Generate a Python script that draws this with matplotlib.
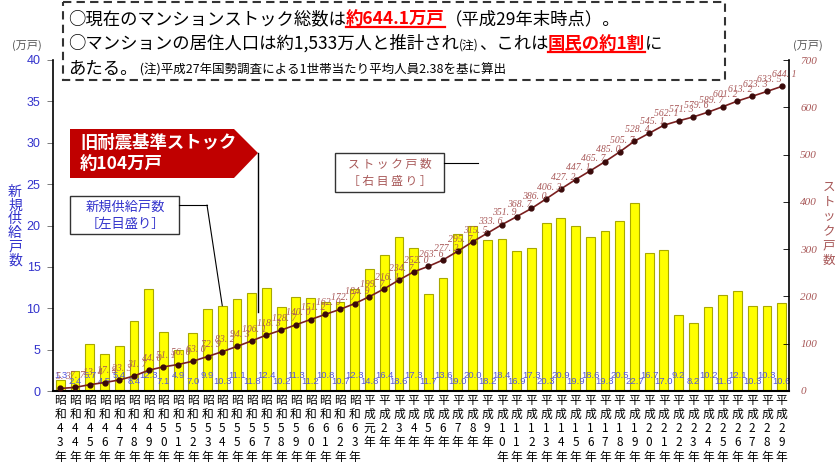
import matplotlib
matplotlib.use('Agg')
import matplotlib.pyplot as plt
from matplotlib.transforms import Affine2D
from matplotlib.patches import Rectangle, Polygon, ConnectionPatch
from matplotlib.lines import Line2D
import numpy as np

W, H = 837, 468
plt.rcParams['font.family'] = ['Noto Sans CJK JP', 'DejaVu Sans']

# ---------------- data ----------------
showa_years = list(range(43, 64))
heisei_years = list(range(1, 30))
year_labels = [f"昭和{y}年" for y in showa_years] + \
              [("平成元年" if y == 1 else f"平成{y}年") for y in heisei_years]

supply = [1.3, 2.4, 5.7, 4.5, 5.4, 8.4, 12.3, 7.1, 4.9, 7.0,
          9.9, 10.3, 11.1, 11.8, 12.4, 10.2, 11.3, 11.2, 10.8, 10.7,
          12.3, 14.8, 16.4, 18.6, 17.3, 11.7, 13.6, 19.0, 20.0, 18.2,
          18.4, 16.9, 17.3, 20.3, 20.9, 19.9, 18.6, 19.3, 20.5, 22.7,
          16.7, 17.0, 9.2, 8.2, 10.2, 11.6, 12.1, 10.3, 10.3, 10.6]

stock = [5.3, 7.7, 13.4, 17.9, 23.3, 31.7, 44.0, 51.1, 56.0, 63.0,
         72.9, 83.2, 94.3, 106.1, 118.3, 128.7, 140.0, 151.2, 162.0, 172.7,
         184.9, 199.7, 216.1, 234.7, 252.0, 263.6, 277.2, 295.7, 315.5, 333.6,
         351.9, 368.7, 386.0, 406.3, 427.2, 447.1, 465.7, 485.0, 505.7, 528.4,
         545.1, 562.1, 571.3, 579.6, 589.7, 601.2, 613.2, 623.3, 633.5, 644.1]

left_ticks = list(range(0, 41, 5))
right_ticks = list(range(0, 701, 100))

BLUE = '#3333CC'
BROWN = '#A85858'

# ---------------- figure ----------------
fig = plt.figure(figsize=(W / 100, H / 100), dpi=100)
fig.patch.set_facecolor('white')
PX = Affine2D().scale(1 / W, -1 / H).translate(0, 1) + fig.transFigure

ax = fig.add_axes([53 / W, 1 - 391 / H, (789 - 53) / W, (391 - 60) / H])
x = np.arange(len(supply))
ax.bar(x, supply, width=0.6, color='#FFFF00', edgecolor='#A8A800',
       linewidth=0.8, zorder=2)
ax.set_xlim(-0.5, len(supply) - 0.5)
ax.set_ylim(0, 40)
ax.set_yticks(left_ticks)
ax.set_yticklabels([str(t) for t in left_ticks], color=BLUE, fontsize=9,
                   family='Liberation Sans')
ax.tick_params(axis='y', direction='out', length=4, width=0.6, color='#666666', pad=5)
ax.set_xticks(x)
ax.set_xticklabels(["\n".join(l) for l in year_labels], fontsize=8.5,
                   linespacing=1.12, va='top')
ax.tick_params(axis='x', length=0, pad=2)
ax.spines['top'].set_visible(False)
ax.spines['right'].set_visible(False)
ax.spines['left'].set_linewidth(1.2)
ax.spines['bottom'].set_linewidth(1.5)

for i, v in enumerate(supply):
    yy = 1.9 if i % 2 == 0 else 1.2
    ax.text(i, yy, f"{v:.1f}", ha='center', va='center', fontsize=6.8,
            color='#5555DD', family='Liberation Sans', zorder=5)

ax2 = ax.twinx()
ax2.plot(x, stock, color='#7A1F1F', lw=1.2, marker='o', ms=3.5,
         mfc='#3A0A0A', mec='#3A0A0A', zorder=3)
ax2.set_ylim(0, 700)
ax2.set_yticks(right_ticks)
ax2.set_yticklabels([str(t) for t in right_ticks], color=BROWN, fontsize=8,
                    family='Liberation Serif', style='italic')
ax2.tick_params(axis='y', direction='in', length=4, width=0.6, pad=8)
ax2.spines['top'].set_visible(False)
ax2.spines['left'].set_visible(False)
ax2.spines['bottom'].set_visible(False)
ax2.spines['right'].set_linewidth(1.2)

for i, v in enumerate(stock):
    ax2.annotate(f"{v:.1f}".replace('.', '. '), (i, v), xytext=(2, 8.5),
                 textcoords='offset points', ha='center', va='center',
                 fontsize=7, color=BROWN, family='Liberation Serif',
                 style='italic', zorder=4)

# axis titles
fig.text(15 / W, 1 - 226 / H, "\n".join("新規供給戸数"), color=BLUE, fontsize=10,
         ha='center', va='center', linespacing=0.97)
fig.text(829 / W, 1 - 224 / H, "\n".join("ストック戸数"), color=BROWN, fontsize=9,
         ha='center', va='center', linespacing=1.15)
fig.text(27 / W, 1 - 45 / H, "(万戸)", color='#555555', fontsize=8,
         ha='center', va='center')
fig.text(808 / W, 1 - 45 / H, "(万戸)", color='#555555', fontsize=8,
         ha='center', va='center')

# ---------------- header box ----------------
fig.add_artist(Rectangle((63, 2), 662, 78, transform=PX, facecolor='white',
                         edgecolor='#333333', lw=1.5, ls=(0, (4, 2.5)), zorder=5))

renderer = fig.canvas.get_renderer()


def rich(x0, ybase, pieces):
    xx = x0
    for s, kw in pieces:
        kw = dict(kw)
        ul = kw.pop('underline', False)
        t = fig.text(xx / W, 1 - ybase / H, s, va='baseline', ha='left',
                     zorder=6, **kw)
        bb = t.get_window_extent(renderer)
        if ul:
            fig.add_artist(Line2D([xx, xx + bb.width], [ybase + 3, ybase + 3],
                                  transform=PX, color=kw.get('color', 'k'),
                                  lw=1.6, zorder=6))
        xx += bb.width


BIG = dict(fontsize=12.5, color='black')
RED = dict(fontsize=12.5, color='#FF0000', fontweight='bold', underline=True)
rich(68, 24, [("○現在のマンションストック総数は", BIG),
              ("約644.1万戸", RED),
              ("（平成29年末時点）。", BIG)])
rich(68, 49, [("○マンションの居住人口は約1,533万人と推計され", BIG),
              ("(注)", dict(fontsize=8.5, color='black')),
              ("、これは", BIG),
              ("国民の約1割", RED),
              ("に", BIG)])
rich(68, 74, [("あたる。", BIG),
              (" (注)平成27年国勢調査による1世帯当たり平均人員2.38を基に算出",
               dict(fontsize=9, color='black'))])

# ---------------- red pentagon ----------------
fig.add_artist(Polygon([(70, 129), (234, 129), (258, 153), (234, 178), (70, 178)],
                       closed=True, transform=PX, facecolor='#C00000',
                       edgecolor='none', zorder=5))
fig.text(80 / W, 1 - 143 / H, "旧耐震基準ストック", color='white', fontsize=12.5,
         fontweight='bold', ha='left', va='center', zorder=6)
fig.text(80 / W, 1 - 164 / H, "約104万戸", color='white', fontsize=12.5,
         fontweight='bold', ha='left', va='center', zorder=6)
fig.add_artist(Line2D([258, 258], [153, 312], transform=PX, color='black',
                      lw=1.0, zorder=5))

# ---------------- supply legend box ----------------
fig.add_artist(Rectangle((70, 196), 109, 38, transform=PX, facecolor='white',
                         edgecolor='#333333', lw=1.0, zorder=5))
fig.text(125 / W, 1 - 207 / H, "新規供給戸数", color=BLUE, fontsize=9.5,
         ha='center', va='center', zorder=6)
fig.text(125 / W, 1 - 224 / H, "［左目盛り］", color=BLUE, fontsize=9.5,
         ha='center', va='center', zorder=6)
fig.add_artist(Line2D([179, 207], [205, 205], transform=PX, color='black',
                      lw=0.8, zorder=5))
con = ConnectionPatch(xyA=(207, 205), coordsA=PX, xyB=(11, supply[11]),
                      coordsB=ax.transData, color='black', lw=0.8, zorder=5)
fig.add_artist(con)

# ---------------- stock legend box ----------------
fig.add_artist(Rectangle((335, 153), 109, 39, transform=PX, facecolor='white',
                         edgecolor='#333333', lw=1.0, zorder=5))
fig.text(390 / W, 1 - 164 / H, "ス ト ッ ク 戸 数", color=BROWN, fontsize=8.5,
         ha='center', va='center', zorder=6)
fig.text(390 / W, 1 - 181 / H, "［ 右 目 盛 り ］", color=BROWN, fontsize=8.5,
         ha='center', va='center', zorder=6)
fig.add_artist(Line2D([444, 478], [163, 163], transform=PX, color='black',
                      lw=0.8, zorder=5))

fig.savefig('out.png', dpi=100, facecolor='white')
